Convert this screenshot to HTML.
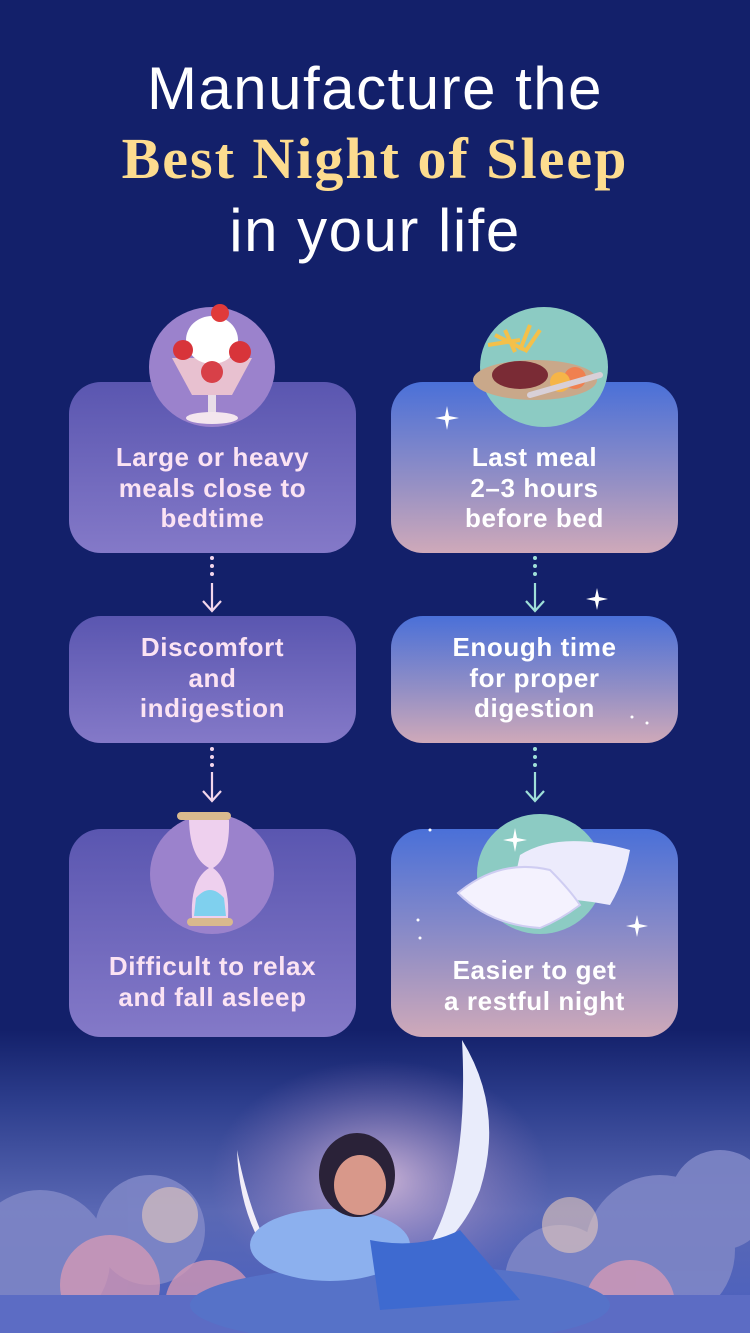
<!DOCTYPE html>
<html><head><meta charset="utf-8"><style>
*{margin:0;padding:0;box-sizing:border-box}
body{width:750px;height:1333px;overflow:hidden;background:#13206a;font-family:"Liberation Sans",sans-serif;position:relative}
.t{position:absolute;left:0;width:750px;text-align:center;color:#fff}
.box{position:absolute;border-radius:32px;width:287px}
.L{left:69px;background:linear-gradient(#5a56b0,#8479c8)}
.R{left:391px;background:linear-gradient(#4a70d8,#9690c4 60%,#cfa9b9)}
.bt{position:absolute;width:287px;text-align:center;font-weight:bold;font-size:26px;letter-spacing:0.6px;line-height:30.5px}
.bl{left:69px;color:#fbe3f3}.br{left:391px;color:#fff}
svg{position:absolute;left:0;top:0}
</style></head><body>
<svg width="750" height="1333" viewBox="0 0 750 1333">
<defs>
<linearGradient id="sky" x1="0" y1="0" x2="0" y2="1"><stop offset="0" stop-color="#13206a"/><stop offset="0.25" stop-color="#2e3f8e"/><stop offset="0.6" stop-color="#5a68b4"/><stop offset="1" stop-color="#4a60c0"/></linearGradient>
<radialGradient id="glow" cx="0.5" cy="0.5" r="0.5"><stop offset="0" stop-color="#e8c8e0" stop-opacity="0.8"/><stop offset="1" stop-color="#a080c0" stop-opacity="0"/></radialGradient>
</defs>
<rect x="0" y="1030" width="750" height="303" fill="url(#sky)"/>
<ellipse cx="380" cy="1180" rx="170" ry="120" fill="url(#glow)"/>
<path d="M462 1040 Q505 1110 480 1190 Q460 1240 420 1260 Q470 1190 462 1040Z" fill="#e9ecfb"/>
<path d="M237 1150 Q240 1235 290 1280 Q255 1240 237 1150Z" fill="#f2eef8"/>
<g fill="#7e86c6" opacity="0.9"><circle cx="40" cy="1260" r="70"/><circle cx="150" cy="1230" r="55"/><circle cx="660" cy="1250" r="75"/><circle cx="560" cy="1280" r="55"/><circle cx="720" cy="1200" r="50"/></g>
<g fill="#d99ab4" opacity="0.75"><circle cx="110" cy="1285" r="50"/><circle cx="210" cy="1305" r="45"/><circle cx="630" cy="1305" r="45"/></g>
<g fill="#f0cfbc" opacity="0.55"><circle cx="170" cy="1215" r="28"/><circle cx="570" cy="1225" r="28"/></g>
<rect x="0" y="1295" width="750" height="38" fill="#5c6cc4"/>
<ellipse cx="400" cy="1305" rx="210" ry="40" fill="#5672c8"/>
<ellipse cx="330" cy="1245" rx="80" ry="36" fill="#8cb0ee"/>
<path d="M370 1240 Q420 1250 460 1230 L520 1300 L380 1310 Z" fill="#3e6ad0"/>
<ellipse cx="357" cy="1175" rx="38" ry="42" fill="#2a2238"/>
<ellipse cx="360" cy="1185" rx="26" ry="30" fill="#d8988a"/>
</svg>
<div class="t" style="top:56px;font-size:60px;letter-spacing:1.5px;line-height:66px">Manufacture the</div>
<div class="t" style="top:126px;font-size:58px;letter-spacing:2px;line-height:66px;font-family:'Liberation Serif',serif;font-weight:bold;color:#fddc8f">Best Night of Sleep</div>
<div class="t" style="top:198px;font-size:60px;letter-spacing:1.5px;line-height:66px">in your life</div>

<div class="box L" style="top:382px;height:171px"></div>
<div class="box R" style="top:382px;height:171px"></div>
<div class="box L" style="top:616px;height:127px"></div>
<div class="box R" style="top:616px;height:127px"></div>
<div class="box L" style="top:829px;height:208px"></div>
<div class="box R" style="top:829px;height:208px"></div>

<svg width="750" height="1333" viewBox="0 0 750 1333">
<ellipse cx="212" cy="367" rx="63" ry="60" fill="#9b82cc"/>
<ellipse cx="544" cy="367" rx="64" ry="60" fill="#8ccbc3"/>
<ellipse cx="212" cy="874" rx="62" ry="60" fill="#9b82cc"/>
<ellipse cx="540" cy="874" rx="63" ry="60" fill="#8ccbc3"/>
<!-- dessert -->
<path d="M172 358 L252 358 L232 395 L192 395Z" fill="#f1c8d0" opacity="0.9"/>
<rect x="208" y="395" width="8" height="18" fill="#e8dde8"/>
<ellipse cx="212" cy="418" rx="26" ry="6" fill="#f4e6ee"/>
<ellipse cx="212" cy="340" rx="26" ry="24" fill="#fff"/>
<circle cx="183" cy="350" r="10" fill="#d8343a"/><circle cx="240" cy="352" r="11" fill="#d8343a"/>
<circle cx="220" cy="313" r="9" fill="#e03a3a"/><circle cx="212" cy="372" r="11" fill="#d84048"/>
<!-- food -->
<ellipse cx="535" cy="380" rx="62" ry="20" fill="#c9a88a"/>
<ellipse cx="520" cy="375" rx="28" ry="14" fill="#7a2b35"/>
<circle cx="575" cy="378" r="11" fill="#f08050"/><circle cx="560" cy="382" r="10" fill="#f6b548"/>
<path d="M488 345 L520 340 M495 335 L525 350 M505 330 L515 352 M530 325 L520 350 M540 330 L525 352" stroke="#f4c04a" stroke-width="4"/>
<path d="M530 395 L600 375" stroke="#d8d0d8" stroke-width="6" stroke-linecap="round"/>
<!-- hourglass -->
<rect x="177" y="812" width="54" height="8" rx="4" fill="#d9b98e"/>
<rect x="187" y="918" width="46" height="8" rx="4" fill="#d9b98e"/>
<path d="M189 820 Q190 858 209 868 Q190 880 192 918 L228 918 Q230 880 213 868 Q230 858 229 820Z" fill="#eed0ee"/>
<path d="M196 898 Q210 882 224 898 L226 916 L194 916Z" fill="#7fd0ee"/>
<!-- pillows -->
<path d="M520 855 Q560 830 630 850 Q625 880 610 905 Q560 895 510 900Z" fill="#ecebfc"/>
<path d="M458 893 Q500 858 550 870 Q570 890 580 905 Q560 920 540 928 Q490 925 458 893Z" fill="#f4f2fe" stroke="#cfcdf2" stroke-width="2"/>
<!-- arrows -->
<g fill="#f3d6ec"><circle cx="212" cy="558" r="2"/><circle cx="212" cy="566" r="2"/><circle cx="212" cy="574" r="2"/>
<circle cx="212" cy="749" r="2"/><circle cx="212" cy="757" r="2"/><circle cx="212" cy="765" r="2"/></g>
<g stroke="#f3d6ec" stroke-width="2.2" fill="none"><path d="M212 583 V610 M203 601 L212 611 L221 601"/><path d="M212 772 V800 M203 791 L212 801 L221 791"/></g>
<g fill="#9fe0d8"><circle cx="535" cy="558" r="2"/><circle cx="535" cy="566" r="2"/><circle cx="535" cy="574" r="2"/>
<circle cx="535" cy="749" r="2"/><circle cx="535" cy="757" r="2"/><circle cx="535" cy="765" r="2"/></g>
<g stroke="#9fe0d8" stroke-width="2.2" fill="none"><path d="M535 583 V610 M526 601 L535 611 L544 601"/><path d="M535 772 V800 M526 791 L535 801 L544 791"/></g>
<g fill="#fff"><path d="M447 406 l2 10 l10 2 l-10 2 l-2 10 l-2 -10 l-10 -2 l10 -2z"/><path d="M597 588 l2 9 l9 2 l-9 2 l-2 9 l-2 -9 l-9 -2 l9 -2z"/>
<path d="M515 828 l2 10 l10 2 l-10 2 l-2 10 l-2 -10 l-10 -2 l10 -2z"/><path d="M637 915 l2 9 l9 2 l-9 2 l-2 9 l-2 -9 l-9 -2 l9 -2z"/>
<circle cx="632" cy="717" r="1.5"/><circle cx="647" cy="723" r="1.5"/><circle cx="430" cy="830" r="1.5"/><circle cx="418" cy="920" r="1.5"/><circle cx="420" cy="938" r="1.5"/></g>
</svg>

<div class="bt bl" style="top:442px">Large or heavy<br>meals close to<br>bedtime</div>
<div class="bt br" style="top:442px">Last meal<br>2–3 hours<br>before bed</div>
<div class="bt bl" style="top:632px">Discomfort<br>and<br>indigestion</div>
<div class="bt br" style="top:632px">Enough time<br>for proper<br>digestion</div>
<div class="bt bl" style="top:951px">Difficult to relax<br>and fall asleep</div>
<div class="bt br" style="top:955px">Easier to get<br>a restful night</div>
</body></html>
